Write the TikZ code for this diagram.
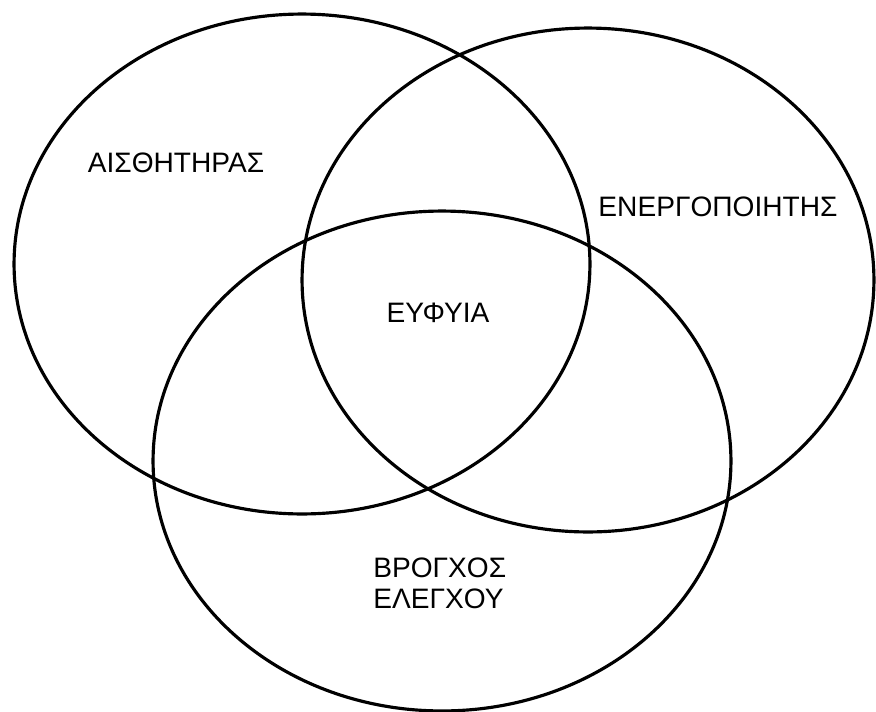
\documentclass[tikz,border=0pt]{standalone}
\usepackage{fontspec}
\setmainfont{Liberation Sans}
\begin{document}
\begin{tikzpicture}[x=0.02cm,y=-0.02cm,
  ring/.style={draw=black,line width=1.8pt},
  lbl/.style={font=\fontsize{16}{17.6}\selectfont,inner sep=0pt,align=center}]
\useasboundingbox (0,0) rectangle (876,711);
% centres of the three sets
\coordinate (cs) at (302,264);
\coordinate (ca) at (588,280);
\coordinate (cl) at (442,461);
\draw[ring] (cs) ellipse [x radius=5.76cm, y radius=5.0cm];
\draw[ring] (ca) ellipse [x radius=5.72cm, y radius=5.04cm];
\draw[ring] (cl) ellipse [x radius=5.78cm, y radius=5.0cm];
% labels
\node[lbl] (sensor) at (176,163) {ΑΙΣΘΗΤΗΡΑΣ};
\node[lbl] (actuator) at (718,207) {ΕΝΕΡΓΟΠΟΙΗΤΗΣ};
\node[lbl] (smart) at (438,313) {ΕΥΦΥΙΑ};
\node[lbl,align=left,anchor=west] (loop) at (373,583) {ΒΡΟΓΧΟΣ\\ΕΛΕΓΧΟΥ};
\end{tikzpicture}
\end{document}
